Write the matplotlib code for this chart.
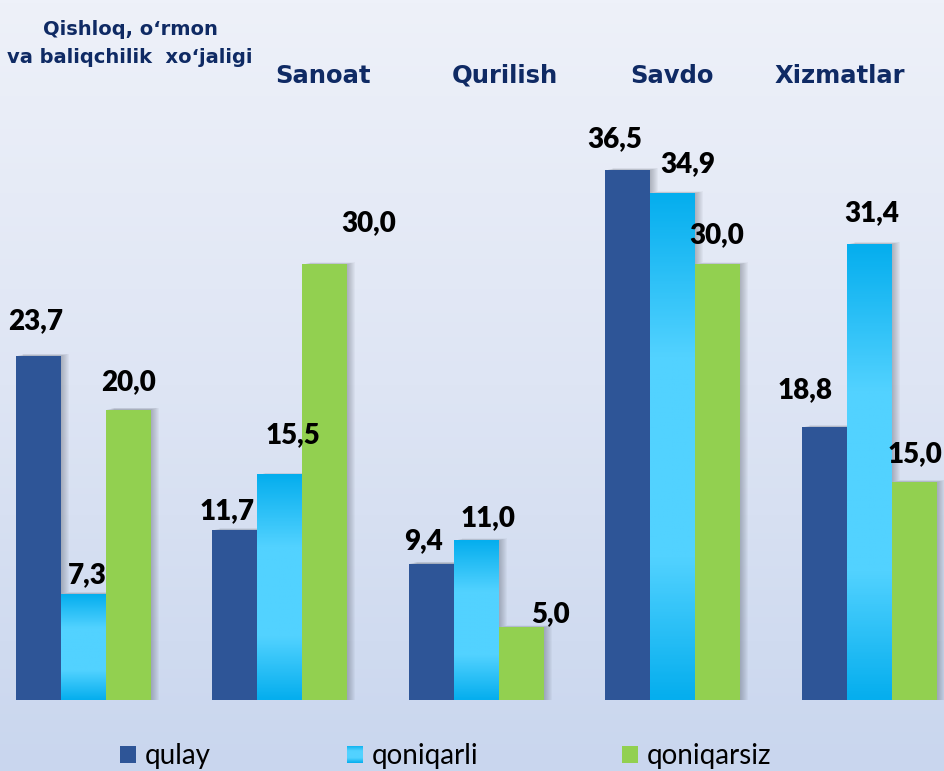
import numpy as np
import matplotlib
matplotlib.use("Agg")
import matplotlib.pyplot as plt
from matplotlib.colors import LinearSegmentedColormap
from matplotlib.patches import Rectangle


# ============================================================
# DATA
# ============================================================

categories = [
    "Qishloq, o\u2018rmon\nva baliqchilik  xo\u2018jaligi",
    "Sanoat",
    "Qurilish",
    "Savdo",
    "Xizmatlar",
]

series_names = ["qulay", "qoniqarli", "qoniqarsiz"]

qulay = [23.7, 11.7, 9.4, 36.5, 18.8]
qoniqarli = [7.3, 15.5, 11.0, 34.9, 31.4]
qoniqarsiz = [20.0, 30.0, 5.0, 30.0, 15.0]


# ============================================================
# LAYOUT / STYLE
# ============================================================

W, H, DPI = 944, 771, 100

DARK = "#2E5597"
GREEN = "#92D050"
TITLE_C = "#0F2A64"

group_px = 196.6        # distance between group centres, px
first_px = 83           # centre of the first group, px
bar_px = 45             # bar width, px
base_px = 700           # y (from top) of the zero line, px
unit_px = 14.52         # px per unit value

bw = bar_px / group_px

# value label nudges (dx px, dy px above bar top to baseline), per series
label_dx = [
    [-2.5, -8, -7.5, -13, -19],
    [4.5, 13, 11.5, 15, 2.5],
    [0, 44, 29, -1, 1],
]
label_dy = [
    [27, 11, 14, 23, 29],
    [11, 32, 14, 21, 23],
    [19, 33, 5, 21, 20],
]

# category headings: centre x px, last-line baseline y px
head_pos = [(130, 63), (323, 83), (505, 83), (672, 83), (840, 83)]

light_cmap = LinearSegmentedColormap.from_list(
    "light",
    [(0.0, "#05AEEE"), (0.32, "#52D2FF"),
     (0.72, "#52D2FF"), (1.0, "#05AEEE")],
)


def fmt(v):
    return f"{v:.1f}".replace(".", ",")


# ============================================================
# FIGURE + BACKGROUND
# ============================================================

fig = plt.figure(figsize=(W / DPI, H / DPI), dpi=DPI)

bg = fig.add_axes([0, 0, 1, 1], zorder=0)
bg_grad = np.linspace(0, 1, 256).reshape(-1, 1)
bg_cmap = LinearSegmentedColormap.from_list(
    "bg", ["#EEF1F9", "#DEE5F4", "#C9D6EE"]
)
bg.imshow(bg_grad, aspect="auto", cmap=bg_cmap,
          extent=[0, 1, 0, 1], origin="upper")
bg.set_axis_off()

ax = fig.add_axes(
    [0, (H - base_px) / H, 1, base_px / H], zorder=1
)
ax.patch.set_alpha(0)
ax.set_axis_off()

xmin = -first_px / group_px
xmax = (W - first_px) / group_px
ymax = base_px / unit_px

px_x = 1 / group_px
px_y = 1 / unit_px


# ============================================================
# BARS
# ============================================================

values = [qulay, qoniqarli, qoniqarsiz]
x = np.arange(len(categories))

for j, vals in enumerate(values):

    xs = x + (j - 1) * bw

    for i, v in enumerate(vals):

        x0 = xs[i] - bw / 2

        # soft drop shadow
        for k in range(1, 9):
            ax.add_patch(Rectangle(
                (x0 + k * px_x, 0),
                bw,
                v + k * 0.25 * px_y,
                color="#3A3F4A",
                alpha=0.045,
                lw=0,
                zorder=1,
            ))

        if j == 1:
            grad = np.linspace(0, 1, 200).reshape(-1, 1)
            ax.imshow(
                grad,
                aspect="auto",
                cmap=light_cmap,
                extent=[x0, x0 + bw, 0, v],
                origin="upper",
                zorder=3,
            )
        else:
            ax.add_patch(Rectangle(
                (x0, 0), bw, v,
                color=DARK if j == 0 else GREEN,
                lw=0,
                zorder=3,
            ))

        ax.annotate(
            fmt(v),
            xy=(xs[i], v),
            xytext=(label_dx[j][i] * 72 / DPI,
                    label_dy[j][i] * 72 / DPI),
            textcoords="offset points",
            ha="center",
            va="baseline",
            fontsize=20,
            fontweight="heavy",
            family=["Lato", "DejaVu Sans"],
            color="black",
            zorder=5,
        )

ax.set_xlim(xmin, xmax)
ax.set_ylim(0, ymax)


# ============================================================
# CATEGORY HEADINGS
# ============================================================

for i, name in enumerate(categories):

    cx, cy = head_pos[i]

    fig.text(
        cx / W,
        1 - cy / H,
        name,
        ha="center",
        va="baseline",
        fontsize=14 if i == 0 else 17.5,
        fontweight="heavy",
        family="DejaVu Sans",
        color=TITLE_C,
        linespacing=1.6,
        zorder=5,
    )


# ============================================================
# LEGEND
# ============================================================

legend_x = [120, 347, 622]
marker_w, marker_h = 16, 17
marker_top = 746
text_base = 764

for j, name in enumerate(series_names):

    mx = legend_x[j]
    max_ = fig.add_axes(
        [mx / W, 1 - (marker_top + marker_h) / H,
         marker_w / W, marker_h / H],
        zorder=4,
    )
    max_.set_axis_off()

    if j == 1:
        max_.imshow(
            np.linspace(0, 1, 50).reshape(-1, 1),
            aspect="auto",
            cmap=light_cmap,
            extent=[0, 1, 0, 1],
            origin="upper",
        )
    else:
        max_.add_patch(Rectangle(
            (0, 0), 1, 1,
            color=DARK if j == 0 else GREEN,
            lw=0,
        ))
        max_.set_xlim(0, 1)
        max_.set_ylim(0, 1)

    fig.text(
        (mx + marker_w + 9) / W,
        1 - text_base / H,
        name,
        ha="left",
        va="baseline",
        fontsize=20,
        family=["Lato", "DejaVu Sans"],
        color="black",
        zorder=5,
    )


fig.savefig("out.png", dpi=DPI)
